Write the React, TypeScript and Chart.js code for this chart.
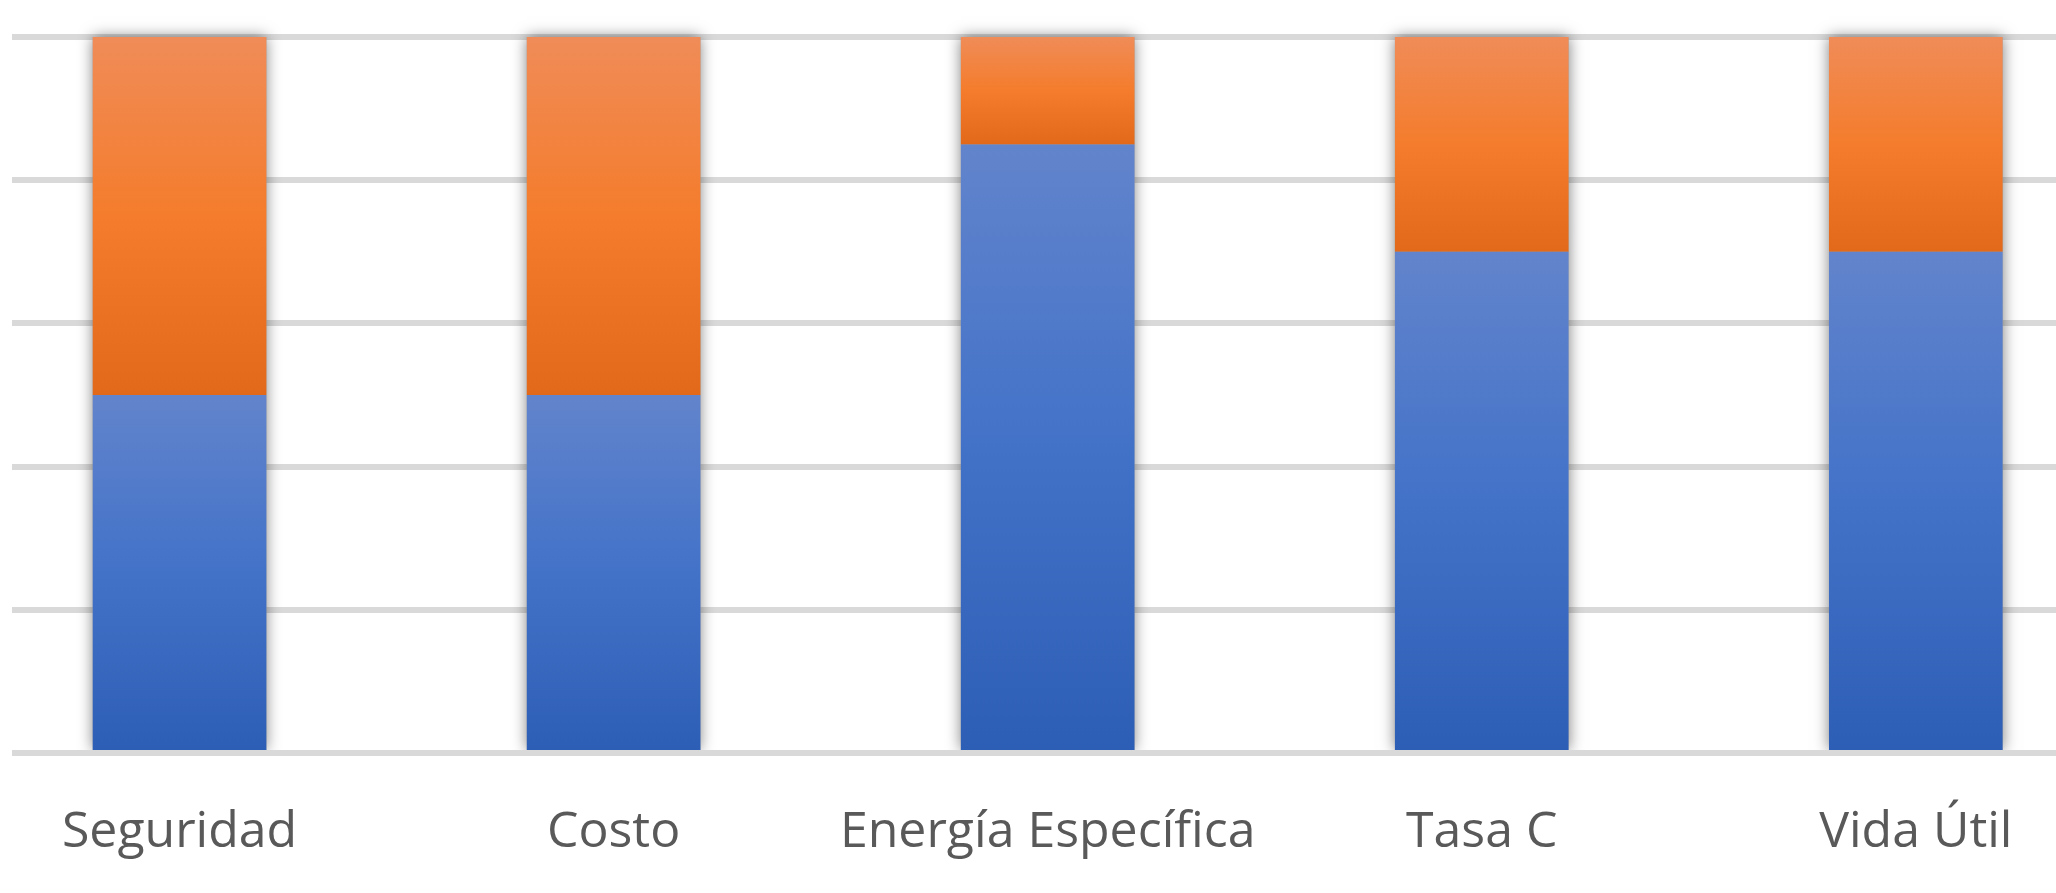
import { useEffect, useRef } from 'react';
import { Chart, registerables } from 'chart.js';

Chart.register(...registerables);

// Categories along the horizontal axis
const categories = ['Seguridad', 'Costo', 'Energía Específica', 'Tasa C', 'Vida Útil'];
// Lower (blue) and upper (orange) segments of each stacked bar, in percent
const blueValues = [50, 50, 85, 70, 70];
const orangeValues = [50, 50, 15, 30, 30];
// Value axis range and gridline step
const yMin = 0;
const yMax = 100;
const yStep = 20;

const seriesList = [blueValues, orangeValues];

const blueStops: [number, string][] = [
  [0, '#6284cc'],
  [0.5, '#4272c8'],
  [1, '#2d5eb5'],
];
const orangeStops: [number, string][] = [
  [0, '#f08c58'],
  [0.5, '#f47c2c'],
  [1, '#e2691a'],
];

// Vertical gradient spanning one stacked segment
function segmentGradient(chart: any, dsIndex: number, i: number, stops: [number, string][]) {
  const y = chart.scales && chart.scales.y;
  if (!y || i === undefined || !chart.chartArea) return stops[1][1];
  let start = 0;
  for (let d = 0; d < dsIndex; d++) start += seriesList[d][i];
  const end = start + seriesList[dsIndex][i];
  const top = y.getPixelForValue(end);
  const bottom = y.getPixelForValue(start);
  if (!Number.isFinite(top) || !Number.isFinite(bottom) || top === bottom) return stops[1][1];
  const g = chart.ctx.createLinearGradient(0, top, 0, bottom);
  stops.forEach(([o, c]) => g.addColorStop(o, c));
  return g;
}

// Soft shadow behind every full stack
const barShadow = {
  id: 'barShadow',
  beforeDatasetsDraw(chart: any) {
    const { ctx, chartArea } = chart;
    const lower = chart.getDatasetMeta(0).data;
    const upper = chart.getDatasetMeta(1).data;
    ctx.save();
    ctx.beginPath();
    ctx.rect(0, 0, chart.width, chartArea.bottom - 3);
    ctx.clip();
    ctx.shadowColor = 'rgba(0,0,0,0.5)';
    ctx.shadowBlur = 14;
    ctx.fillStyle = '#a0a0a0';
    lower.forEach((el: any, i: number) => {
      const top = upper[i] ? upper[i].y : el.y;
      const w = el.width;
      ctx.fillRect(el.x - w / 2, top, w, el.base - top);
    });
    ctx.restore();
  },
};

export default function App() {
  const canvasRef = useRef<HTMLCanvasElement | null>(null);

  useEffect(() => {
    if (!canvasRef.current) return;
    const chart = new Chart(canvasRef.current, {
      type: 'bar',
      data: {
        datasets: [
          {
            label: 'A',
            data: blueValues.map((v, i) => ({ x: i, y: v })),
            backgroundColor: (c: any) => segmentGradient(c.chart, 0, c.dataIndex, blueStops),
            borderWidth: 0,
            categoryPercentage: 1,
            barPercentage: 0.4,
          },
          {
            label: 'B',
            data: orangeValues.map((v, i) => ({ x: i, y: v })),
            backgroundColor: (c: any) => segmentGradient(c.chart, 1, c.dataIndex, orangeStops),
            borderWidth: 0,
            categoryPercentage: 1,
            barPercentage: 0.4,
          },
        ],
      },
      options: {
        animation: false,
        responsive: true,
        maintainAspectRatio: false,
        layout: { padding: { left: 12, top: 37, right: 0, bottom: 0 } },
        plugins: {
          legend: { display: false },
          tooltip: { enabled: false },
        },
        scales: {
          x: {
            type: 'linear',
            stacked: true,
            offset: false,
            min: -0.386,
            max: 4.323,
            grid: { display: false, drawTicks: false },
            border: { display: false },
            ticks: {
              stepSize: 1,
              includeBounds: false,
              autoSkip: false,
              maxRotation: 0,
              padding: 50,
              color: '#595959',
              font: { family: '"Open Sans", sans-serif', size: 50 },
              callback: (v: any) => (Number.isInteger(v) && categories[v] !== undefined ? categories[v] : ''),
            },
            afterFit: (scale: any) => {
              scale.height = 140;
              scale.paddingLeft = 0;
              scale.paddingRight = 0;
            },
          },
          y: {
            stacked: true,
            min: yMin,
            max: yMax,
            ticks: { display: false, stepSize: yStep },
            border: { display: false },
            grid: { color: '#d9d9d9', lineWidth: 6, drawTicks: false },
          },
        },
      },
      plugins: [barShadow],
    } as any);
    chart.update();
    return () => chart.destroy();
  }, []);

  return (
    <div
      style={{
        position: 'fixed',
        left: 0,
        top: 0,
        width: 2056,
        height: 893,
        background: '#ffffff',
        overflow: 'hidden',
      }}
    >
      <canvas ref={canvasRef} />
    </div>
  );
}
